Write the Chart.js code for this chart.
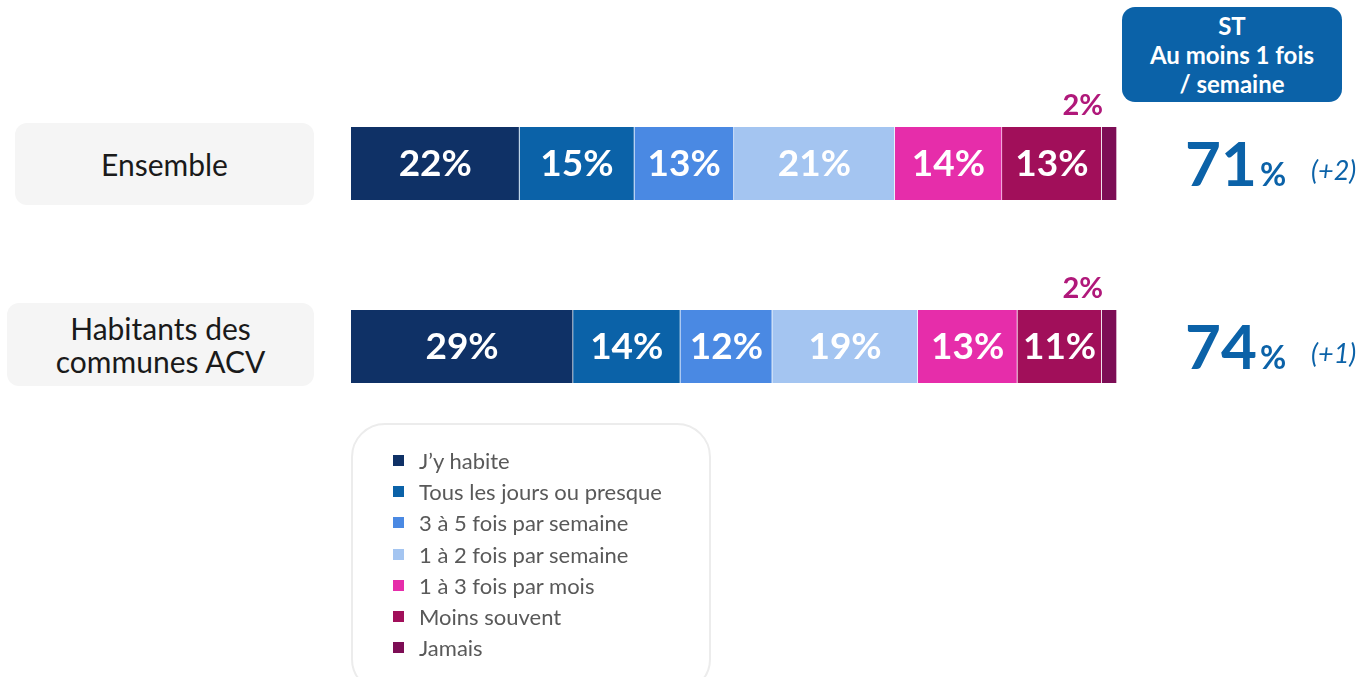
<!DOCTYPE html>
<html lang="fr">
<head>
    <meta charset="UTF-8">
    <title>Fréquence</title>
    <script src="https://cdn.jsdelivr.net/npm/chart.js"></script>
    <style>
        body {
            margin: 0;
            background: #ffffff;
            font-family: 'Lato', sans-serif;
        }

        .page {
            position: relative;
            width: 1365px;
            height: 677px;
            overflow: hidden;
        }

        .page canvas {
            position: absolute;
            top: 0;
            left: 0;
        }

        .row-label {
            position: absolute;
            background: #f5f5f5;
            border-radius: 12px;
            display: flex;
            align-items: center;
            justify-content: center;
            text-align: center;
            color: #1a1a1a;
            font-size: 30px;
            line-height: 33px;
        }

        .st-box {
            position: absolute;
            left: 1122px;
            top: 7px;
            width: 220px;
            height: 95px;
            background: #0b62a8;
            border-radius: 13px;
            color: white;
            font-weight: bold;
            font-size: 24px;
            line-height: 29px;
            text-align: center;
            display: flex;
            align-items: center;
            justify-content: center;
        }

        .legend {
            position: absolute;
            left: 351px;
            top: 423px;
            width: 360px;
            height: 270px;
            border: 2px solid #ececec;
            border-radius: 34px;
            box-sizing: border-box;
            padding: 20px 0 0 40px;
        }

        .legend-item {
            display: flex;
            align-items: center;
            height: 31.2px;
            font-size: 22px;
            color: #595959;
        }

        .legend-item span {
            display: inline-block;
            width: 11px;
            height: 11px;
            margin-right: 15px;
        }
    </style>
</head>
<body>
<div class="page">
    <canvas id="chart"></canvas>
    <div class="row-label" style="left:15px; top:123px; width:299px; height:82px;">Ensemble</div>
    <div class="row-label" style="left:7px; top:303px; width:307px; height:83px;">Habitants des<br>communes ACV</div>
    <div class="st-box">ST<br>Au moins 1 fois<br>/ semaine</div>
    <div class="legend" id="legend"></div>
</div>

<script>
    const groups = ['Ensemble', 'Habitants des communes ACV'];
    const answers = ["J’y habite", 'Tous les jours ou presque', '3 à 5 fois par semaine',
        '1 à 2 fois par semaine', '1 à 3 fois par mois', 'Moins souvent', 'Jamais'];
    const colors = ['#0f3166', '#0b62a8', '#4a89e3', '#a4c5f1', '#e62daa', '#a10f5a', '#7d0d55'];

    // une ligne par réponse : [Ensemble, Habitants ACV]
    const jyHabite = [22, 29];
    const tousLesJours = [15, 14];
    const troisCinqFois = [13, 12];
    const uneDeuxFois = [21, 19];
    const unTroisMois = [14, 13];
    const moinsSouvent = [13, 11];
    const jamais = [2, 2];

    const stTotals = [71, 74];
    const stEvolution = ['(+2)', '(+1)'];

    const series = [jyHabite, tousLesJours, troisCinqFois, uneDeuxFois, unTroisMois, moinsSouvent, jamais];

    // légende
    const legend = document.getElementById('legend');
    answers.forEach((label, i) => {
        const item = document.createElement('div');
        item.className = 'legend-item';
        item.innerHTML = `<span style="background:${colors[i]}"></span>${label}`;
        legend.appendChild(item);
    });

    const labelsPlugin = {
        id: 'labels',
        afterDatasetsDraw(chart) {
            const ctx = chart.ctx;
            const last = chart.data.datasets.length - 1;
            ctx.save();
            chart.data.datasets.forEach((ds, i) => {
                chart.getDatasetMeta(i).data.forEach((bar, j) => {
                    const text = ds.data[j] + '%';
                    if (i === last) {
                        ctx.fillStyle = '#b0187a';
                        ctx.font = 'bold 29px Lato';
                        ctx.textAlign = 'right';
                        ctx.textBaseline = 'alphabetic';
                        ctx.fillText(text, bar.x - 14, bar.y - bar.height / 2 - 12);
                    } else {
                        ctx.fillStyle = '#ffffff';
                        ctx.font = 'bold 37px Lato';
                        ctx.textAlign = 'center';
                        ctx.textBaseline = 'middle';
                        ctx.fillText(text, (bar.base + bar.x) / 2, bar.y + 1);
                    }
                });
            });

            // totaux ST
            chart.getDatasetMeta(0).data.forEach((bar, j) => {
                const base = bar.y + 22;
                ctx.textAlign = 'left';
                ctx.textBaseline = 'alphabetic';
                ctx.fillStyle = '#0b62a8';
                ctx.font = 'bold 62px Lato';
                ctx.fillText(stTotals[j], 1185, base);
                const w = ctx.measureText(String(stTotals[j])).width;
                ctx.font = 'bold 32px Lato';
                ctx.fillText('%', 1185 + w + 3, base);
                ctx.font = 'italic 27px Lato';
                ctx.fillText(stEvolution[j], 1311, base - 6);
            });
            ctx.restore();
        }
    };

    new Chart(document.getElementById('chart'), {
        type: 'bar',
        data: {
            labels: groups,
            datasets: series.map((values, i) => ({
                label: answers[i],
                data: values,
                backgroundColor: colors[i],
                borderColor: 'rgba(255,255,255,0.45)',
                borderWidth: { left: 0, right: 1, top: 0, bottom: 0 },
                borderSkipped: false,
                barThickness: 73
            }))
        },
        options: {
            indexAxis: 'y',
            responsive: true,
            maintainAspectRatio: false,
            animation: false,
            layout: {
                padding: { left: 351, right: 248, top: 72, bottom: 239 }
            },
            scales: {
                x: { stacked: true, min: 0, max: 100, display: false },
                y: { stacked: true, display: false }
            },
            plugins: {
                legend: { display: false },
                tooltip: { enabled: false }
            }
        },
        plugins: [labelsPlugin]
    });
</script>
</body>
</html>
